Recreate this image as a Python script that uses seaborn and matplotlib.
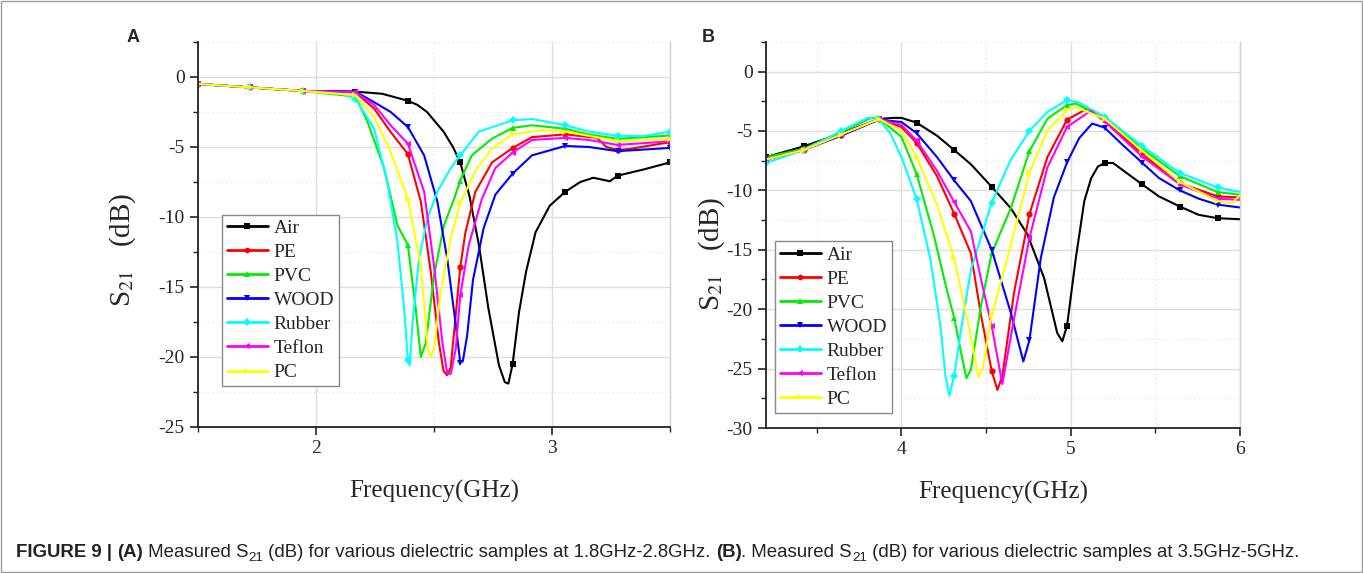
import numpy as np
import matplotlib
matplotlib.use("Agg")
import matplotlib.pyplot as plt
import seaborn as sns
from matplotlib.patches import Rectangle
from matplotlib.ticker import MultipleLocator

# --- DONNEES PANNEAU A (1.5 - 3.5 GHz) ---
a_air_f = [1.5, 1.722, 1.944, 2.167, 2.28, 2.389, 2.43, 2.47, 2.54, 2.58, 2.611, 2.65, 2.69, 2.73, 2.775,
           2.80, 2.815, 2.833, 2.86, 2.89, 2.93, 2.99, 3.056, 3.12, 3.175, 3.245, 3.278, 3.39, 3.5]
a_air_v = [-0.5, -0.75, -1.0, -1.05, -1.2, -1.7, -2.0, -2.5, -3.9, -5.0, -6.1, -8.5, -12.0, -16.5, -20.6,
           -21.8, -21.9, -20.5, -16.8, -13.9, -11.1, -9.2, -8.2, -7.5, -7.2, -7.45, -7.05, -6.6, -6.1]

a_pe_f = [1.5, 1.722, 1.944, 2.167, 2.246, 2.316, 2.389, 2.444, 2.486, 2.52, 2.54, 2.555, 2.57, 2.585, 2.611,
          2.633, 2.675, 2.746, 2.833, 2.915, 3.056, 3.19, 3.23, 3.278, 3.33, 3.5]
a_pe_v = [-0.5, -0.75, -1.0, -1.1, -2.26, -3.93, -5.5, -8.9, -13.9, -18.9, -21.0, -21.3, -20.8, -18.2, -13.6,
          -11.1, -8.2, -6.1, -5.07, -4.3, -4.1, -4.35, -5.0, -5.22, -5.14, -4.66]

a_pvc_f = [1.5, 1.722, 1.944, 2.167, 2.218, 2.288, 2.345, 2.389, 2.422, 2.444, 2.465, 2.5, 2.542, 2.585,
           2.611, 2.66, 2.746, 2.833, 2.915, 3.056, 3.155, 3.278, 3.5]
a_pvc_v = [-0.5, -0.75, -1.0, -1.4, -3.2, -6.5, -10.6, -12.0, -16.5, -20.0, -19.0, -14.2, -10.6, -8.7,
           -7.4, -5.6, -4.4, -3.64, -3.45, -3.7, -4.1, -4.42, -4.18]

a_wood_f = [1.5, 1.722, 1.944, 2.167, 2.246, 2.316, 2.389, 2.458, 2.514, 2.556, 2.592, 2.611, 2.622, 2.64,
            2.665, 2.71, 2.76, 2.833, 2.915, 3.056, 3.155, 3.278, 3.5]
a_wood_v = [-0.5, -0.75, -1.0, -1.05, -1.8, -2.5, -3.57, -5.6, -8.9, -13.0, -17.7, -20.4, -20.3, -18.5,
            -14.5, -10.8, -8.4, -6.9, -5.6, -4.93, -5.0, -5.3, -5.07]

a_rub_f = [1.5, 1.722, 1.944, 2.1, 2.167, 2.246, 2.302, 2.345, 2.373, 2.389, 2.397, 2.408, 2.436, 2.472,
           2.514, 2.571, 2.611, 2.69, 2.833, 2.915, 3.056, 3.155, 3.278, 3.387, 3.5]
a_rub_v = [-0.5, -0.75, -1.0, -1.1, -1.55, -3.7, -7.5, -11.8, -16.5, -20.2, -20.6, -17.7, -13.0, -10.1,
           -8.2, -6.5, -5.6, -3.9, -3.1, -3.0, -3.45, -3.9, -4.2, -4.23, -3.9]

a_tef_f = [1.5, 1.722, 1.944, 2.167, 2.246, 2.316, 2.389, 2.458, 2.5, 2.535, 2.556, 2.571, 2.592, 2.611,
           2.647, 2.703, 2.76, 2.833, 2.915, 3.056, 3.155, 3.278, 3.5]
a_tef_v = [-0.5, -0.75, -1.0, -1.1, -2.0, -3.45, -4.76, -8.2, -13.5, -18.9, -21.2, -21.2, -19.4, -15.6,
           -12.0, -8.7, -6.5, -5.4, -4.5, -4.35, -4.5, -4.85, -4.6]

a_pc_f = [1.5, 1.722, 1.944, 2.167, 2.246, 2.316, 2.389, 2.444, 2.475, 2.486, 2.5, 2.528, 2.571, 2.611,
          2.675, 2.746, 2.833, 2.958, 3.056, 3.155, 3.278, 3.5]
a_pc_v = [-0.5, -0.75, -1.0, -1.3, -2.86, -5.36, -8.7, -13.5, -19.6, -20.0, -19.4, -15.4, -11.5, -9.0,
          -6.7, -5.1, -4.1, -3.8, -3.9, -4.2, -4.6, -4.42]

a_marks = [1.5, 1.722, 1.944, 2.167, 2.389, 2.611, 2.833, 3.056, 3.278, 3.5]

# --- DONNEES PANNEAU B (3.2 - 6 GHz) ---
b_air_f = [3.2, 3.422, 3.644, 3.867, 3.95, 4.0, 4.089, 4.21, 4.311, 4.41, 4.533, 4.646, 4.744, 4.843, 4.92,
           4.95, 4.978, 5.03, 5.08, 5.12, 5.16, 5.2, 5.25, 5.422, 5.52, 5.644, 5.756, 5.867, 6.0]
b_air_v = [-7.2, -6.3, -5.2, -4.0, -3.9, -3.9, -4.3, -5.4, -6.6, -7.8, -9.7, -11.5, -13.7, -17.4, -22.0,
           -22.7, -21.4, -15.7, -10.9, -9.0, -8.0, -7.7, -7.7, -9.5, -10.5, -11.36, -12.06, -12.34, -12.43]

b_pe_f = [3.2, 3.422, 3.644, 3.867, 4.0, 4.089, 4.21, 4.311, 4.41, 4.47, 4.533, 4.567, 4.596, 4.665, 4.756,
          4.862, 4.978, 5.1, 5.2, 5.422, 5.644, 5.867, 6.0]
b_pe_v = [-7.4, -6.6, -5.3, -4.0, -4.67, -6.0, -8.8, -11.95, -15.3, -20.5, -25.2, -26.8, -25.6, -18.6, -12.0,
          -7.2, -4.05, -3.1, -4.05, -6.95, -9.4, -10.5, -10.6]

b_pvc_f = [3.2, 3.25, 3.422, 3.644, 3.82, 3.867, 4.0, 4.089, 4.19, 4.27, 4.311, 4.36, 4.384, 4.41, 4.47,
           4.533, 4.646, 4.756, 4.862, 4.978, 5.03, 5.2, 5.422, 5.644, 5.867, 6.0]
b_pvc_v = [-7.2, -7.05, -6.5, -5.1, -3.9, -3.95, -5.5, -8.6, -13.7, -18.5, -20.7, -24.2, -25.8, -25.1, -19.7,
           -15.3, -11.5, -6.7, -3.97, -2.83, -2.7, -3.9, -6.5, -8.8, -10.14, -10.37]

b_wood_f = [3.2, 3.422, 3.644, 3.867, 4.0, 4.089, 4.21, 4.311, 4.41, 4.533, 4.646, 4.72, 4.756, 4.823, 4.9,
            4.978, 5.05, 5.126, 5.2, 5.303, 5.422, 5.52, 5.644, 5.756, 5.867, 6.0]
b_wood_v = [-7.4, -6.6, -5.4, -4.05, -4.25, -5.18, -7.2, -9.15, -10.9, -15.0, -20.3, -24.4, -22.6, -15.7, -10.6,
            -7.65, -5.6, -4.38, -4.72, -6.13, -7.68, -8.95, -10.0, -10.7, -11.2, -11.44]

b_rub_f = [3.2, 3.422, 3.644, 3.8, 3.867, 3.935, 4.0, 4.089, 4.17, 4.23, 4.26, 4.283, 4.311, 4.35, 4.41,
           4.533, 4.646, 4.756, 4.862, 4.978, 5.047, 5.2, 5.422, 5.644, 5.867, 6.0]
b_rub_v = [-7.7, -6.6, -5.0, -3.9, -4.0, -5.24, -7.2, -10.7, -15.7, -21.4, -25.6, -27.3, -25.6, -21.9, -16.7,
           -11.05, -7.4, -5.0, -3.4, -2.4, -2.6, -3.8, -6.27, -8.53, -9.75, -10.14]

b_tef_f = [3.2, 3.422, 3.644, 3.867, 4.0, 4.089, 4.21, 4.311, 4.41, 4.47, 4.533, 4.596, 4.665, 4.756, 4.862,
           4.978, 5.118, 5.2, 5.422, 5.644, 5.867, 6.0]
b_tef_v = [-7.4, -6.6, -5.3, -4.0, -4.5, -5.8, -8.36, -10.96, -13.45, -17.5, -21.4, -26.3, -20.8, -14.0, -8.07,
           -4.67, -3.3, -4.2, -7.15, -9.5, -10.7, -10.8]

b_pc_f = [3.2, 3.422, 3.644, 3.867, 4.0, 4.089, 4.21, 4.311, 4.368, 4.41, 4.454, 4.48, 4.533, 4.646, 4.756,
          4.862, 4.978, 5.03, 5.2, 5.422, 5.644, 5.867, 5.95, 6.0]
b_pc_v = [-7.4, -6.6, -5.3, -4.0, -4.96, -7.2, -11.2, -15.7, -19.5, -22.3, -25.7, -25.0, -20.5, -14.6, -8.5,
          -4.96, -3.26, -3.0, -3.97, -6.67, -9.3, -10.9, -11.1, -10.4]

b_marks = [3.2, 3.422, 3.644, 3.867, 4.089, 4.311, 4.533, 4.756, 4.978, 5.2, 5.422, 5.644, 5.867]

noms = ['Air', 'PE', 'PVC', 'WOOD', 'Rubber', 'Teflon', 'PC']
couleurs = ['#000000', '#ff0000', '#00ee00', '#0000ff', '#00ffff', '#ff00ff', '#ffff00']
marqueurs = ['s', 'o', '^', 'v', 'D', '<', '>']

panel_a = [(a_air_f, a_air_v), (a_pe_f, a_pe_v), (a_pvc_f, a_pvc_v), (a_wood_f, a_wood_v),
           (a_rub_f, a_rub_v), (a_tef_f, a_tef_v), (a_pc_f, a_pc_v)]
panel_b = [(b_air_f, b_air_v), (b_pe_f, b_pe_v), (b_pvc_f, b_pvc_v), (b_wood_f, b_wood_v),
           (b_rub_f, b_rub_v), (b_tef_f, b_tef_v), (b_pc_f, b_pc_v)]

# --- STYLE ---
sns.set_style("ticks")
plt.rcParams['font.family'] = ['Liberation Serif', 'DejaVu Serif']
plt.rcParams['mathtext.fontset'] = 'stix'
plt.rcParams['axes.unicode_minus'] = False

fig = plt.figure(figsize=(13.63, 5.73), dpi=100)
ax_a = fig.add_axes([0.1453, 0.2548, 0.3463, 0.672])
ax_b = fig.add_axes([0.562, 0.253, 0.3478, 0.674])


def trace_panel(ax, series, marks, xlim, ylim, leg_anchor, ylab_xy):
    for (f, v), nom, c, m in zip(series, noms, couleurs, marqueurs):
        idx = [i for i, x in enumerate(f) if np.any(np.isclose(x, marks, atol=1e-3))]
        sns.lineplot(x=f, y=v, ax=ax, color=c, lw=1.5, marker=m, markersize=4.5,
                     markeredgewidth=0, markevery=idx, label=nom, sort=False)
    ax.set_xlim(*xlim)
    ax.set_ylim(*ylim)
    ax.xaxis.set_major_locator(MultipleLocator(1))
    ax.xaxis.set_minor_locator(MultipleLocator(0.5))
    ax.yaxis.set_major_locator(MultipleLocator(5))
    ax.yaxis.set_minor_locator(MultipleLocator(2.5))
    ax.grid(True, which='major', color='#dedede', lw=1.0)
    ax.grid(True, which='minor', color='#ececec', lw=0.8, ls=(0, (2, 2)))
    ax.set_axisbelow(True)
    ax.tick_params(which='major', direction='out', length=6, width=1.2, labelsize=14, color='#222222')
    ax.tick_params(which='minor', direction='out', length=3.5, width=1.0, color='#222222')
    for s in ['left', 'bottom']:
        ax.spines[s].set_linewidth(1.3)
        ax.spines[s].set_color('#222222')
    ax.spines['top'].set_visible(False)
    ax.spines['right'].set_color('#d0d0d0')
    ax.spines['right'].set_linewidth(1.0)
    ax.set_xlabel('Frequency(GHz)', fontsize=18, labelpad=16)
    ax.set_ylabel('S$_{21}$   (dB)', fontsize=21)
    ax.yaxis.set_label_coords(*ylab_xy)
    leg = ax.legend(loc='lower left', bbox_to_anchor=leg_anchor, borderaxespad=0, fontsize=14,
                    handlelength=2.1, handletextpad=0.3, labelspacing=0.33, borderpad=0.25,
                    fancybox=False, framealpha=1, edgecolor='#888888', markerscale=0.9)
    leg.get_frame().set_linewidth(1.0)
    for line in leg.get_lines():
        line.set_linewidth(2.0)
        line.set_markevery([1])


trace_panel(ax_a, panel_a, a_marks, (1.5, 3.5), (-25, 2.5), (0.051, 0.106), (-0.128, 0.46))
trace_panel(ax_b, panel_b, b_marks, (3.2, 6.0), (-30, 2.5), (0.019, 0.039), (-0.083, 0.45))

fig.text(133 / 1363, 1 - 37 / 573, 'A', fontsize=13, weight='bold', family='Liberation Sans',
         ha='center', va='center')
fig.text(708 / 1363, 1 - 37 / 573, 'B', fontsize=13, weight='bold', family='Liberation Sans',
         ha='center', va='center')

# --- LEGENDE DE LA FIGURE (caption) ---
caption = [("FIGURE 9 | ", 'bold', False), ("(A)", 'bold', False), (" Measured S", 'normal', False),
           ("21", 'normal', True), (" (dB) for various dielectric samples at 1.8GHz-2.8GHz. ", 'normal', False),
           ("(B)", 'bold', False), (". Measured S", 'normal', False), ("21", 'normal', True),
           (" (dB) for various dielectric samples at 3.5GHz-5GHz.", 'normal', False)]
cap_font = ['Liberation Sans Narrow', 'Liberation Sans']
renderer = fig.canvas.get_renderer()
x = 16 / 1363
y = 1 - 557 / 573
size = 13.4
for txt, w, sub in caption:
    fs = size * 0.72 if sub else size
    dy = -4 / 573 if sub else 0
    t = fig.text(x, y + dy, txt, fontsize=fs, weight=w, family=cap_font, ha='left', va='baseline',
                 color='#222222')
    bb = t.get_window_extent(renderer)
    x += bb.width / fig.bbox.width

fig.patches.append(Rectangle((0.0008, 0.0015), 0.9984, 0.997, transform=fig.transFigure, fill=False,
                             ec='#9a9a9a', lw=1.0))

fig.savefig('out.png', dpi=100)
